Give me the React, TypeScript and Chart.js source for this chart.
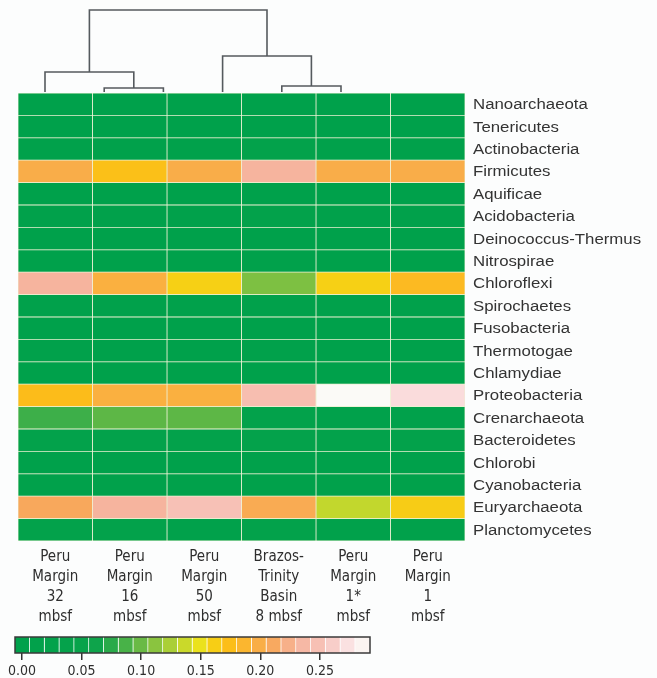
import { useEffect, useRef } from 'react';
import { Chart, registerables } from 'chart.js';

Chart.register(...registerables);

// Phyla, top to bottom
const phyla = [
  'Nanoarchaeota', 'Tenericutes', 'Actinobacteria', 'Firmicutes', 'Aquificae',
  'Acidobacteria', 'Deinococcus-Thermus', 'Nitrospirae', 'Chloroflexi', 'Spirochaetes',
  'Fusobacteria', 'Thermotogae', 'Chlamydiae', 'Proteobacteria', 'Crenarchaeota',
  'Bacteroidetes', 'Chlorobi', 'Cyanobacteria', 'Euryarchaeota', 'Planctomycetes',
];

// Sample column labels, left to right
const sampleLabels = [
  ['Peru', 'Margin', '32', 'mbsf'],
  ['Peru', 'Margin', '16', 'mbsf'],
  ['Peru', 'Margin', '50', 'mbsf'],
  ['Brazos-', 'Trinity', 'Basin', '8 mbsf'],
  ['Peru', 'Margin', '1*', 'mbsf'],
  ['Peru', 'Margin', '1', 'mbsf'],
];

// Relative abundance per phylum, one array per sample
const peru32 = [0.00, 0.00, 0.01, 0.200, 0.00, 0.01, 0.00, 0.00, 0.230, 0.01, 0.00, 0.01, 0.00, 0.176, 0.083, 0.02, 0.00, 0.01, 0.210, 0.02];
const peru16 = [0.00, 0.00, 0.01, 0.173, 0.00, 0.01, 0.00, 0.00, 0.195, 0.01, 0.00, 0.00, 0.00, 0.195, 0.095, 0.02, 0.00, 0.01, 0.230, 0.02];
const peru50 = [0.00, 0.00, 0.01, 0.200, 0.00, 0.01, 0.00, 0.00, 0.160, 0.01, 0.00, 0.00, 0.00, 0.195, 0.095, 0.02, 0.00, 0.01, 0.250, 0.01];
const brazos8 = [0.00, 0.00, 0.02, 0.230, 0.00, 0.02, 0.00, 0.01, 0.107, 0.01, 0.00, 0.01, 0.00, 0.245, 0.020, 0.03, 0.01, 0.01, 0.205, 0.02];
const peru1star = [0.00, 0.00, 0.01, 0.200, 0.00, 0.01, 0.00, 0.00, 0.160, 0.01, 0.00, 0.00, 0.00, 0.290, 0.010, 0.02, 0.00, 0.01, 0.134, 0.01];
const peru1 = [0.00, 0.00, 0.01, 0.200, 0.00, 0.01, 0.00, 0.00, 0.180, 0.01, 0.00, 0.00, 0.00, 0.270, 0.010, 0.02, 0.00, 0.01, 0.163, 0.01];
const sampleValues = [peru32, peru16, peru50, brazos8, peru1star, peru1];

// Hierarchical clustering of the samples: [left node, right node, height]
// Leaves are 0..5 in display order, merged nodes are numbered from 6 upward.
const linkage: [number, number, number][] = [
  [1, 2, 0.049],
  [4, 5, 0.073],
  [0, 6, 0.244],
  [3, 7, 0.439],
  [8, 9, 1.0],
];

// Colour scale
const scaleTicks = [0, 0.05, 0.1, 0.15, 0.2, 0.25];
const scaleMin = -0.0058;
const scaleMax = 0.292;
const scaleSteps = 24;

const colorStops: [number, string][] = [
  [0.0, '#00a14b'],
  [0.06, '#08a34b'],
  [0.08, '#35ad4a'],
  [0.1, '#6aba45'],
  [0.12, '#9fcb3b'],
  [0.135, '#c5d82c'],
  [0.15, '#ede21c'],
  [0.16, '#f6d015'],
  [0.175, '#fcbd18'],
  [0.195, '#fab040'],
  [0.21, '#f8a85c'],
  [0.23, '#f6b49e'],
  [0.255, '#f7c4bc'],
  [0.27, '#fadcdc'],
  [0.29, '#fbfaf7'],
];

function hexRgb(h: string) {
  return [parseInt(h.slice(1, 3), 16), parseInt(h.slice(3, 5), 16), parseInt(h.slice(5, 7), 16)];
}

function colorFor(v: number) {
  if (v <= colorStops[0][0]) return colorStops[0][1];
  for (let i = 1; i < colorStops.length; i++) {
    const [v1, c1] = colorStops[i];
    if (v <= v1) {
      const [v0, c0] = colorStops[i - 1];
      const t = (v - v0) / (v1 - v0);
      const a = hexRgb(c0);
      const b = hexRgb(c1);
      const m = a.map((x, k) => Math.round(x + (b[k] - x) * t));
      return `rgb(${m[0]},${m[1]},${m[2]})`;
    }
  }
  return colorStops[colorStops.length - 1][1];
}

const NARROW = '"Liberation Sans Narrow", "DejaVu Sans Condensed", sans-serif';
const TEXT = '#2e2e2e';

export default function App() {
  const dendroRef = useRef<HTMLCanvasElement>(null);
  const heatRef = useRef<HTMLCanvasElement>(null);
  const barRef = useRef<HTMLCanvasElement>(null);

  useEffect(() => {
    // ---- dendrogram ----
    const nodeX: number[] = sampleValues.map((_, i) => i);
    const nodeH: number[] = sampleValues.map(() => 0);
    const dendroSets = linkage.map(([a, b, h]) => {
      const pts = [
        { x: nodeX[a], y: nodeH[a] },
        { x: nodeX[a], y: h },
        { x: nodeX[b], y: h },
        { x: nodeX[b], y: nodeH[b] },
      ];
      nodeX.push((nodeX[a] + nodeX[b]) / 2);
      nodeH.push(h);
      return {
        data: pts,
        showLine: true,
        borderColor: '#555a5e',
        borderWidth: 1.6,
        pointRadius: 0,
        clip: false as any,
      };
    });

    const dendro = new Chart(dendroRef.current!, {
      type: 'scatter',
      data: { datasets: dendroSets },
      options: {
        animation: false,
        responsive: false,
        events: [],
        layout: { padding: { left: 15.4, right: 286.4, top: 10, bottom: 1 } },
        plugins: { legend: { display: false }, tooltip: { enabled: false } },
        scales: {
          x: { type: 'linear', min: -0.5, max: 5.5, display: false },
          y: { type: 'linear', min: 0, max: 1, display: false },
        },
      },
    });

    // ---- heatmap ----
    const rowLabels = {
      id: 'rowLabels',
      afterDraw(chart: any) {
        const { ctx, chartArea } = chart;
        const ys = chart.scales.y;
        ctx.save();
        ctx.fillStyle = '#333';
        ctx.font = '14px "Liberation Sans", Arial, sans-serif';
        ctx.textAlign = 'left';
        ctx.textBaseline = 'alphabetic';
        phyla.forEach((name, i) => {
          const y = ys.getPixelForValue(i);
          ctx.save();
          ctx.translate(chartArea.right + 8, y + 5);
          ctx.scale(1.2, 1);
          ctx.fillText(name, 0, 0);
          ctx.restore();
        });
        ctx.restore();
      },
    };

    const heat = new Chart(heatRef.current!, {
      type: 'bar',
      data: {
        labels: phyla,
        datasets: sampleValues.map((vals) => ({
          data: vals.map(() => 1),
          backgroundColor: vals.map(colorFor),
          borderColor: 'rgba(236,240,210,0.95)',
          borderWidth: 0.75,
          borderSkipped: false as any,
          barPercentage: 1,
          categoryPercentage: 1,
        })),
      },
      options: {
        indexAxis: 'y',
        animation: false,
        responsive: false,
        events: [],
        layout: { padding: { left: 18, right: 192, top: 8, bottom: 0 } },
        plugins: { legend: { display: false }, tooltip: { enabled: false } },
        scales: {
          x: {
            type: 'linear',
            stacked: true,
            min: 0,
            max: sampleValues.length,
            grid: { display: false, drawTicks: false },
            border: { display: false },
            afterBuildTicks: (s: any) => {
              s.ticks = sampleLabels.map((_, i) => ({ value: i + 0.5 }));
            },
            afterFit: (s: any) => {
              s.height = 84;
            },
            ticks: {
              autoSkip: false,
              maxRotation: 0,
              padding: 6,
              color: TEXT,
              font: { family: NARROW, size: 15, lineHeight: '20px' },
              callback: (_v: any, i: number) => sampleLabels[i],
            },
          },
          y: {
            type: 'category',
            stacked: true,
            display: false,
          },
        },
      },
      plugins: [rowLabels],
    });

    // ---- colour key ----
    const stepW = (scaleMax - scaleMin) / scaleSteps;
    const steps = Array.from({ length: scaleSteps }, (_, i) => scaleMin + i * stepW);
    const frame = {
      id: 'frame',
      afterDatasetsDraw(chart: any) {
        const { ctx, chartArea } = chart;
        ctx.save();
        ctx.strokeStyle = '#3a3a3a';
        ctx.lineWidth = 1.5;
        ctx.strokeRect(chartArea.left, chartArea.top, chartArea.right - chartArea.left, chartArea.bottom - chartArea.top);
        ctx.restore();
      },
    };

    const key = new Chart(barRef.current!, {
      type: 'bar',
      data: {
        labels: ['key'],
        datasets: steps.map((s) => ({
          data: [[s, s + stepW]] as any,
          backgroundColor: colorFor(s + stepW / 2),
          borderColor: 'rgba(255,255,255,0.55)',
          borderWidth: { left: 0, right: 1, top: 0, bottom: 0 },
          borderSkipped: false as any,
          grouped: false,
          barPercentage: 1,
          categoryPercentage: 1,
        })),
      },
      options: {
        indexAxis: 'y',
        animation: false,
        responsive: false,
        events: [],
        layout: { padding: { left: 15, right: 287, top: 12, bottom: 0 } },
        plugins: { legend: { display: false }, tooltip: { enabled: false } },
        scales: {
          x: {
            type: 'linear',
            min: scaleMin,
            max: scaleMax,
            afterBuildTicks: (s: any) => {
              s.ticks = scaleTicks.map((v) => ({ value: v }));
            },
            afterFit: (s: any) => {
              s.height = 25;
            },
            grid: { drawOnChartArea: false, drawTicks: true, tickLength: 7, color: '#333', lineWidth: 1.5 },
            border: { display: false },
            ticks: {
              padding: 3,
              color: TEXT,
              font: { family: NARROW, size: 14 },
              callback: (v: any) => Number(v).toFixed(2),
            },
          },
          y: { display: false },
        },
      },
      plugins: [frame],
    });

    return () => {
      dendro.destroy();
      heat.destroy();
      key.destroy();
    };
  }, []);

  return (
    <div style={{ position: 'absolute', left: 0, top: 0, width: 657, height: 678, background: '#fcfdfd', overflow: 'hidden' }}>
      <canvas ref={dendroRef} width={657} height={93} style={{ position: 'absolute', left: 0, top: 0, display: 'block' }} />
      <canvas ref={heatRef} width={657} height={540} style={{ position: 'absolute', left: 0, top: 85, display: 'block' }} />
      <canvas ref={barRef} width={657} height={53} style={{ position: 'absolute', left: 0, top: 625, display: 'block' }} />
    </div>
  );
}
